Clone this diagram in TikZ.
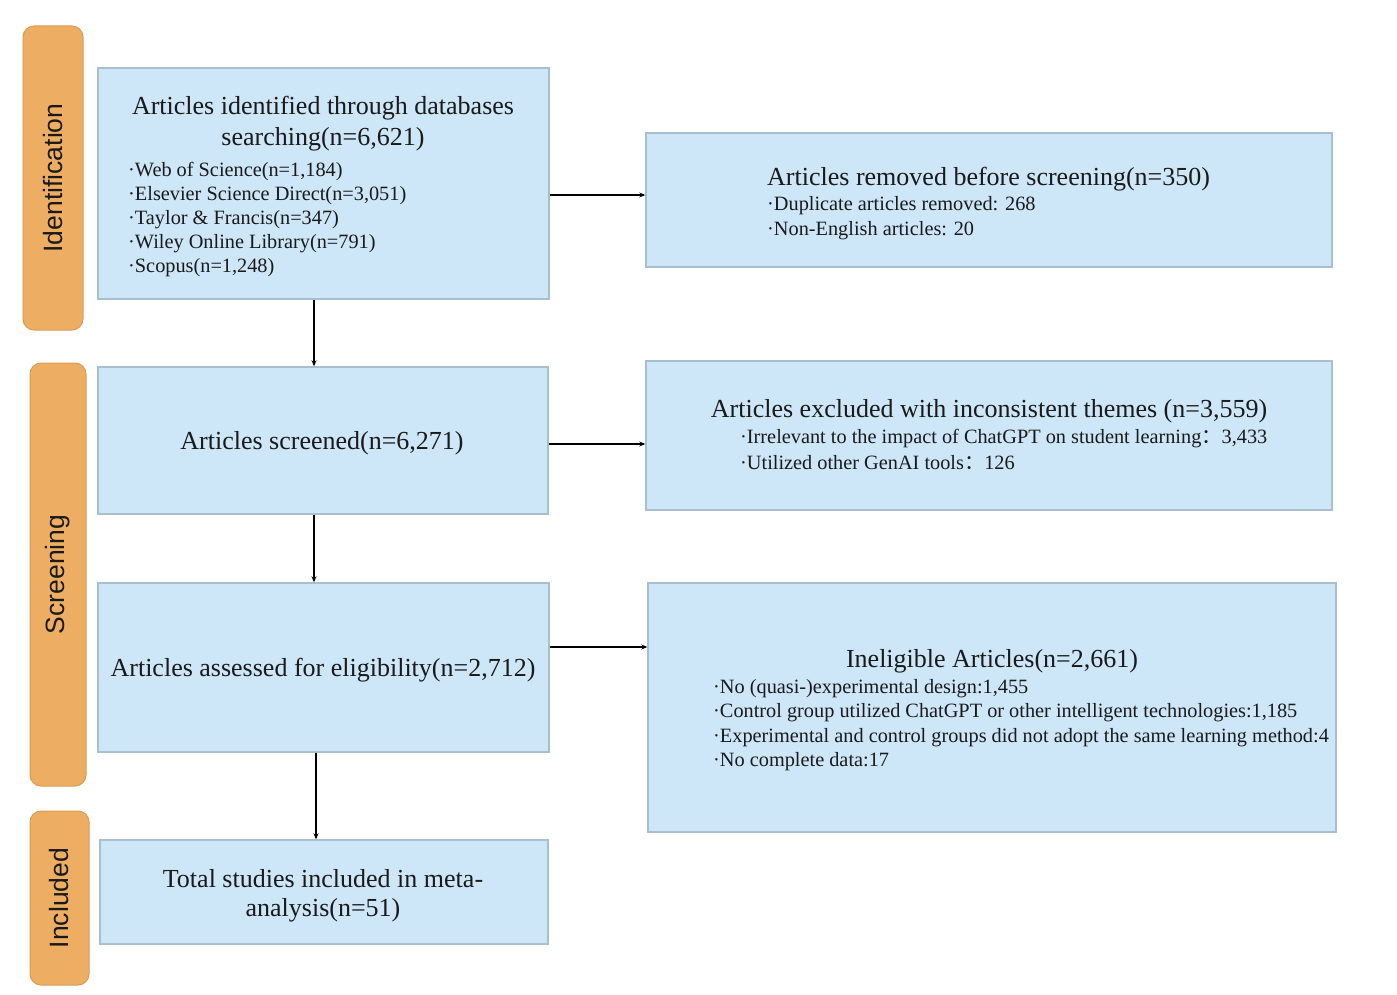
\documentclass[tikz,border=0pt]{standalone}
\usepackage{fontspec}
\setmainfont{Liberation Serif}
\newfontfamily\stagefont{Liberation Sans}
\newfontfamily\cjk{Noto Sans CJK SC}
\usetikzlibrary{arrows.meta}
\definecolor{boxfill}{HTML}{CDE6F8}
\definecolor{boxline}{HTML}{A9BFD0}
\definecolor{stagefill}{HTML}{EDAE63}
\definecolor{stageline}{HTML}{D89C55}
\definecolor{txt}{HTML}{1A1A1A}
\tikzset{
  box/.style={draw=boxline, fill=boxfill, line width=1.4pt, inner sep=0pt, rectangle},
  stage/.style={draw=stageline, fill=stagefill, line width=1pt, rounded corners=11pt, inner sep=0pt},
  stagetext/.style={rotate=90, font=\stagefont\fontsize{26.5}{30}\selectfont, text=txt},
  title/.style={font=\fontsize{26}{31}\selectfont, text=txt, inner sep=0pt},
  item/.style={font=\fontsize{20.3}{24}\selectfont, text=txt, inner sep=0pt, anchor=west},
  arr/.style={line width=1.1pt, -{Stealth[length=6pt,width=5pt]}}
}
\begin{document}
\begin{tikzpicture}[x=1pt,y=-1pt]
\useasboundingbox (0,0) rectangle (1397,995);
% stages
\node[stage, minimum width=60pt, minimum height=304pt] (s1) at (53,178) {};
\node[stagetext] (s1t) at (s1.center) {Identification};
\node[stage, minimum width=56pt, minimum height=423pt] (s2) at (58,574.5) {};
\node[stagetext] (s2t) at (s2.center) {Screening};
\node[stage, minimum width=59pt, minimum height=174pt] (s3) at (59.5,898) {};
\node[stagetext] (s3t) at (s3.center) {Included};
% boxes
\node[box, minimum width=451pt, minimum height=231pt] (A) at (323.5,183.5) {};
\node[box, minimum width=686pt, minimum height=134pt] (B) at (989,200) {};
\node[box, minimum width=450pt, minimum height=147pt] (C) at (323,440.5) {};
\node[box, minimum width=686pt, minimum height=149pt] (D) at (989,435.5) {};
\node[box, minimum width=451pt, minimum height=169pt] (E) at (323.5,667.5) {};
\node[box, minimum width=688pt, minimum height=249pt] (F) at (992,707.5) {};
\node[box, minimum width=448pt, minimum height=104pt] (G) at (324,892) {};
% texts A
\node[title] (a1) at (323,108) {Articles identified through databases};
\node[title] (a2) at (323,139) {searching(n=6,621)};
\node[item] (a3) at (128,172) {·Web of Science(n=1,184)};
\node[item] (a4) at (128,196) {·Elsevier Science Direct(n=3,051)};
\node[item] (a5) at (128,220) {·Taylor \& Francis(n=347)};
\node[item] (a6) at (128,244) {·Wiley Online Library(n=791)};
\node[item] (a7) at (128,268) {·Scopus(n=1,248)};
% texts B
\node[title, anchor=west] (b1) at (767,179) {Articles removed before screening(n=350)};
\node[item] (b2) at (767,206) {·Duplicate articles removed: 268};
\node[item] (b3) at (767,231) {·Non-English articles: 20};
% text C
\node[title] (c1) at (322,443) {Articles screened(n=6,271)};
% texts D
\node[title] (d1) at (989,411) {Articles excluded with inconsistent themes (n=3,559)};
\node[item] (d2) at (740,439) {·Irrelevant to the impact of ChatGPT on student learning{\cjk ：}3,433};
\node[item] (d3) at (740,463) {·Utilized other GenAI tools{\cjk ：}126};
% text E
\node[title] (e1) at (323,670) {Articles assessed for eligibility(n=2,712)};
% texts F
\node[title] (f1) at (992,661) {Ineligible Articles(n=2,661)};
\node[item] (f2) at (713,689) {·No (quasi-)experimental design:1,455};
\node[item] (f3) at (713,713) {·Control group utilized ChatGPT or other intelligent technologies:1,185};
\node[item] (f4) at (713,738) {·Experimental and control groups did not adopt the same learning method:4};
\node[item] (f5) at (713,762) {·No complete data:17};
% texts G
\node[title] (g1) at (323,879) {Total studies included in meta-};
\node[title] (g2) at (323,910) {analysis(n=51)};
% connectors
\coordinate (ab) at (600,195);
\coordinate (cd) at (600,444);
\coordinate (ef) at (600,647);
\coordinate (v1) at (314,330);
\coordinate (v2) at (316,800);
\draw[arr] (A.east |- ab) -- (B.west |- ab);
\draw[arr] (C.east |- cd) -- (D.west |- cd);
\draw[arr] (E.east |- ef) -- (F.west |- ef);
\draw[arr] (A.south -| v1) -- (C.north -| v1);
\draw[arr] (C.south -| v1) -- (E.north -| v1);
\draw[arr] (E.south -| v2) -- (G.north -| v2);
\end{tikzpicture}
\end{document}
